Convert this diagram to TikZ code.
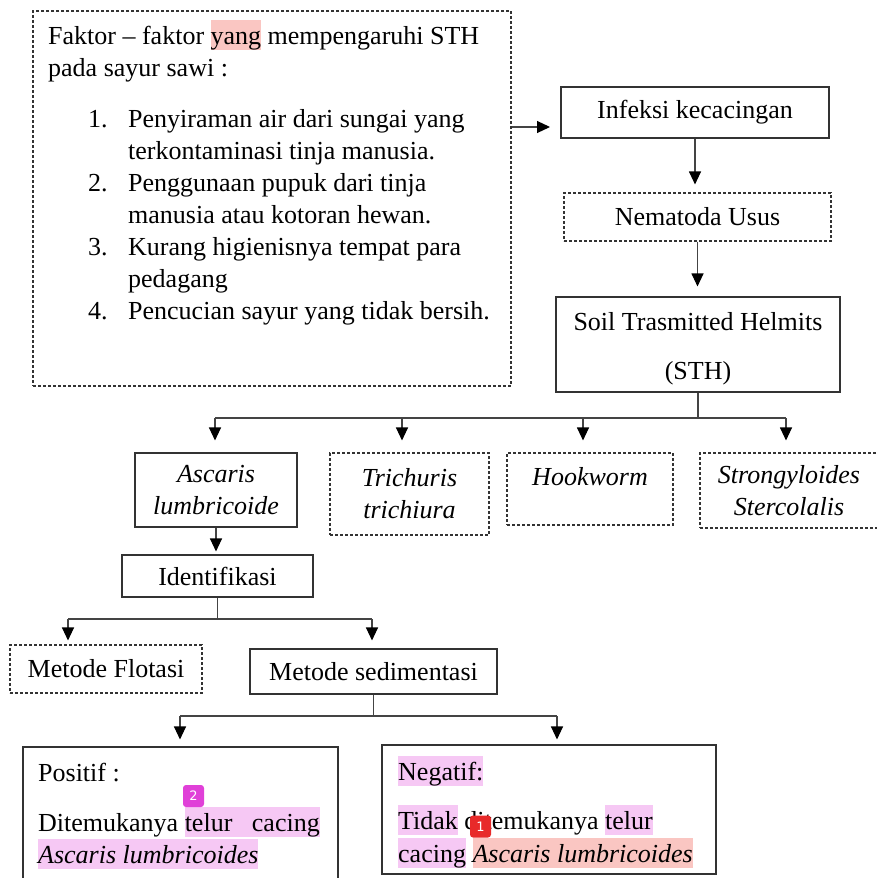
\documentclass[tikz,border=0pt]{standalone}
\usepackage{fontspec}
\setmainfont{Liberation Serif}
\newfontfamily\badgefont{DejaVu Sans}
\usetikzlibrary{arrows.meta}
\definecolor{hlpink}{HTML}{F6C8F4}
\definecolor{hlsalmon}{HTML}{FAC6C2}
\definecolor{badgepink}{HTML}{E040D8}
\definecolor{badgered}{HTML}{E82A2A}
\definecolor{ln}{HTML}{333333}
\definecolor{cn}{HTML}{444444}
\newcommand\hlt[2]{\begingroup\setbox0=\hbox{#2}\rlap{\textcolor{#1}{\rule[-6pt]{\wd0}{30pt}}}\box0\endgroup}
\tikzset{
  x=1pt, y=-1pt,
  every node/.style={font=\fontsize{26pt}{32pt}\selectfont, inner sep=0pt},
  line/.style={draw=cn, line width=1.1pt},
  solidbox/.style={draw=ln, line width=1.1pt, inner sep=0pt, align=center},
  dashbox/.style={solidbox, dash pattern=on 3pt off 2pt},
  arr/.style={draw=cn, line width=1.1pt, -{Triangle[length=13pt,width=12pt,fill=black,color=black]}},
  txt/.style={anchor=base west, inner sep=0pt},
  ctxt/.style={anchor=base, inner sep=0pt},
  badge/.style={fill=#1, rounded corners=3pt, minimum width=21pt, minimum height=22pt, text=white, font=\badgefont\fontsize{13pt}{15pt}\selectfont},
}
\begin{document}
\begin{tikzpicture}
\useasboundingbox (0,0) rectangle (877,878);
% boxes
\node[dashbox, minimum width=478pt, minimum height=375pt] (bigbox) at (272,198.5) {};
\node[solidbox, minimum width=268pt, minimum height=51pt] (infeksi) at (695,112.5) {Infeksi kecacingan};
\node[dashbox, minimum width=267pt, minimum height=48pt] (nematoda) at (697.5,217) {Nematoda Usus};
\node[solidbox, minimum width=284pt, minimum height=95pt] (sth) at (698,344.5) {};
\node[solidbox, minimum width=162pt, minimum height=74pt, font=\fontsize{26pt}{32pt}\selectfont\itshape] (ascaris) at (216,490) {Ascaris\\lumbricoide};
\node[dashbox, minimum width=159pt, minimum height=82pt, font=\fontsize{26pt}{32pt}\selectfont\itshape] (trichuris) at (409.5,494) {Trichuris\\trichiura};
\node[dashbox, minimum width=166pt, minimum height=72pt] (hookworm) at (590,489) {};
\node[dashbox, minimum width=178pt, minimum height=75pt, font=\fontsize{26pt}{32pt}\selectfont\itshape] (strongy) at (789,490.5) {Strongyloides\\Stercolalis};
\node[solidbox, minimum width=191pt, minimum height=42pt] (identifikasi) at (217.5,576) {Identifikasi};
\node[dashbox, minimum width=192pt, minimum height=48pt] (flotasi) at (106,669) {Metode Flotasi};
\node[solidbox, minimum width=247pt, minimum height=45pt] (sedimentasi) at (373.5,671.5) {Metode sedimentasi};
\node[solidbox, minimum width=315pt, minimum height=143pt] (positif) at (180.5,818.5) {};
\node[solidbox, minimum width=334pt, minimum height=129pt] (negatif) at (549,809.5) {};
% texts of big box
\node[txt] (f1) at (48,44) {Faktor -- faktor \hlt{hlsalmon}{yang} mempengaruhi STH};
\node[txt] (f2) at (48,76) {pada sayur sawi :};
\node[txt] (n1) at (88,127) {1.};
\node[txt] (l1a) at (128,127) {Penyiraman air dari sungai yang};
\node[txt] (l1b) at (128,159) {terkontaminasi tinja manusia.};
\node[txt] (n2) at (88,191) {2.};
\node[txt] (l2a) at (128,191) {Penggunaan pupuk dari tinja};
\node[txt] (l2b) at (128,223) {manusia atau kotoran hewan.};
\node[txt] (n3) at (88,255) {3.};
\node[txt] (l3a) at (128,255) {Kurang higienisnya tempat para};
\node[txt] (l3b) at (128,287) {pedagang};
\node[txt] (n4) at (88,319) {4.};
\node[txt] (l4a) at (128,319) {Pencucian sayur yang tidak bersih.};
% STH texts
\node[ctxt] (sth1) at (698,330) {Soil Trasmitted Helmits};
\node[ctxt] (sth2) at (698,379) {(STH)};
\node[ctxt, font=\fontsize{26pt}{32pt}\selectfont\itshape] (hooktxt) at (590,485) {Hookworm};
% result texts
\node[txt] (p1) at (38,781) {Positif :};
\node[txt] (p2) at (38,831) {\hbox to 283pt{Ditemukanya \hlt{hlpink}{\hbox to 135pt{telur\hfill cacing}}\hss}};
\node[txt] (p3) at (38,863) {\hlt{hlpink}{\itshape Ascaris lumbricoides}};
\node[txt] (q1) at (398,780) {\hlt{hlpink}{Negatif:}};
\node[txt] (q2) at (398,829) {\hlt{hlpink}{Tidak} ditemukanya \hlt{hlpink}{telur}};
\node[txt] (q3) at (398,862) {\hlt{hlpink}{cacing} \hlt{hlsalmon}{\itshape Ascaris lumbricoides}};
% badges
\node[badge=badgepink] (badge2) at (193.5,796) {2};
\node[badge=badgered] (badge1) at (480.5,826.5) {1};
% connectors
\coordinate (arrT) at (550,127);
\draw[arr] (bigbox.east |- arrT) -- (arrT);
\draw[arr, shorten >=8pt] (infeksi.south) -- (infeksi.south |- nematoda.north);
\draw[arr, shorten >=10pt] (nematoda.south) -- (nematoda.south |- sth.north);
\coordinate (sthJ) at (698,418);
\coordinate (brL) at (215,418);
\coordinate (br2) at (402,418);
\coordinate (br3) at (583,418);
\coordinate (brR) at (786,418);
\draw[line] (sth.south) -- (sthJ);
\draw[line] (brL) -- (brR);
\draw[arr, shorten >=12pt] (brL) -- (brL |- ascaris.north);
\draw[arr, shorten >=12pt] (br2) -- (br2 |- trichuris.north);
\draw[arr, shorten >=12pt] (br3) -- (br3 |- hookworm.north);
\draw[arr, shorten >=12pt] (brR) -- (brR |- strongy.north);
\draw[arr, shorten >=3pt] (ascaris.south) -- (ascaris.south |- identifikasi.north);
\coordinate (idJ) at (217.5,619);
\coordinate (idL) at (68,619);
\coordinate (idR) at (372,619);
\draw[line] (identifikasi.south) -- (idJ);
\draw[line] (idL) -- (idR);
\draw[arr, shorten >=4pt] (idL) -- (idL |- flotasi.north);
\draw[arr, shorten >=8pt] (idR) -- (idR |- sedimentasi.north);
\coordinate (sdJ) at (373.5,716);
\coordinate (sdL) at (180,716);
\coordinate (sdR) at (557,716);
\draw[line] (sedimentasi.south) -- (sdJ);
\draw[line] (sdL) -- (sdR);
\draw[arr, shorten >=7pt] (sdL) -- (sdL |- positif.north);
\draw[arr, shorten >=5pt] (sdR) -- (sdR |- negatif.north);
\end{tikzpicture}
\end{document}
